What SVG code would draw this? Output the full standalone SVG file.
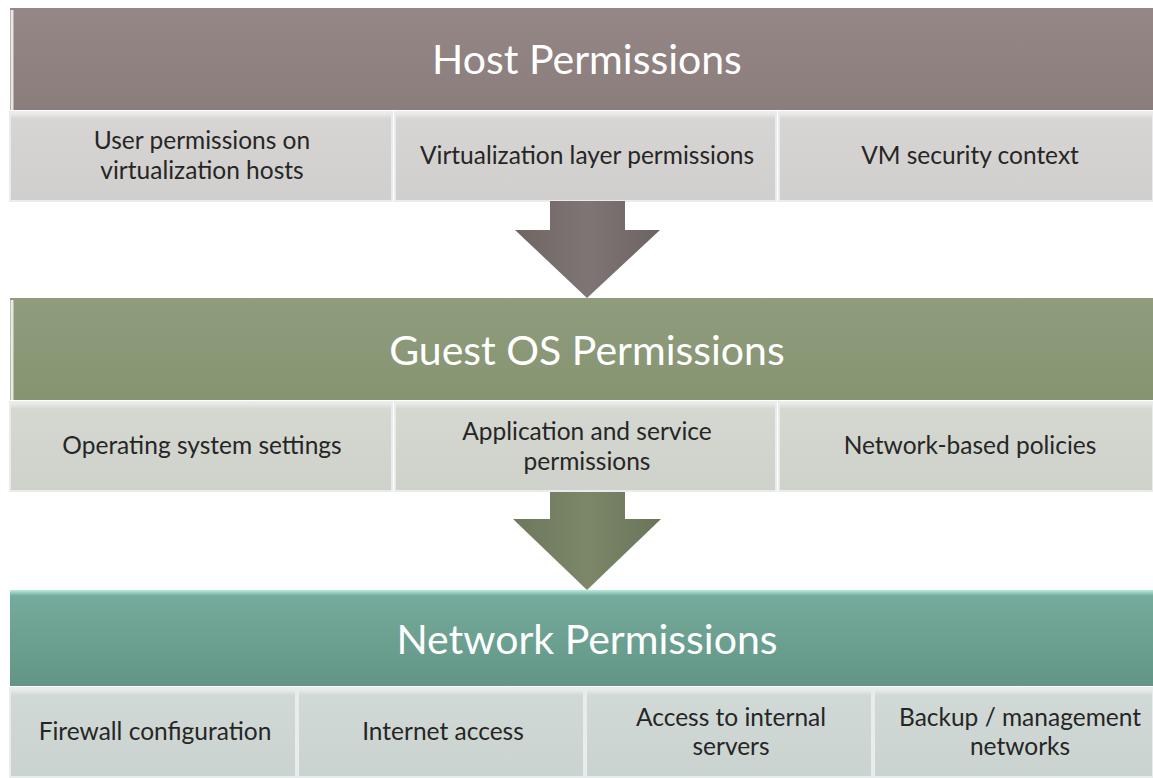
<svg xmlns="http://www.w3.org/2000/svg" width="1153" height="778" viewBox="0 0 1153 778">
<style>
.title{font-family:Lato,"Open Sans",sans-serif;font-size:41px;fill:#ffffff;text-anchor:middle}
.sub{font-family:Lato,"Open Sans",sans-serif;font-size:24.5px;fill:#262626;text-anchor:middle}
.edge{fill:none;stroke:#ffffff;stroke-width:3;stroke-opacity:0.8}
</style>
<defs>
<linearGradient id="gHost" x1="0" y1="0" x2="0" y2="1"><stop offset="0" stop-color="#948785"/><stop offset="1" stop-color="#8a7d7b"/></linearGradient>
<linearGradient id="gGuest" x1="0" y1="0" x2="0" y2="1"><stop offset="0" stop-color="#8f9d7d"/><stop offset="1" stop-color="#869472"/></linearGradient>
<linearGradient id="gNet" x1="0" y1="0" x2="0" y2="1"><stop offset="0" stop-color="#b8ecdf"/><stop offset="0.06" stop-color="#75ab9c"/><stop offset="1" stop-color="#629585"/></linearGradient>
<linearGradient id="gSubH" x1="0" y1="0" x2="0" y2="1"><stop offset="0" stop-color="#f0f0ef"/><stop offset="0.08" stop-color="#d7d5d3"/><stop offset="1" stop-color="#d1cfcd"/></linearGradient>
<linearGradient id="gSubG" x1="0" y1="0" x2="0" y2="1"><stop offset="0" stop-color="#eff0ed"/><stop offset="0.08" stop-color="#d5d7d1"/><stop offset="1" stop-color="#cfd1cb"/></linearGradient>
<linearGradient id="gSubN" x1="0" y1="0" x2="0" y2="1"><stop offset="0" stop-color="#eef2f1"/><stop offset="0.08" stop-color="#d1d9d6"/><stop offset="1" stop-color="#cbd3d0"/></linearGradient>
<linearGradient id="gArr1" x1="0" y1="0" x2="1" y2="0"><stop offset="0" stop-color="#6f6664"/><stop offset="0.5" stop-color="#7f7574"/><stop offset="1" stop-color="#6c6362"/></linearGradient>
<linearGradient id="gArr2" x1="0" y1="0" x2="1" y2="0"><stop offset="0" stop-color="#6d775c"/><stop offset="0.5" stop-color="#7c8769"/><stop offset="1" stop-color="#6a7459"/></linearGradient>
</defs>

<g id="host">
<rect x="10" y="8" width="1143" height="102" fill="url(#gHost)"/>
<line x1="12" y1="10" x2="12" y2="110" class="edge"/>
<text class="title" x="587" y="74">Host Permissions</text>
</g>
<g id="host-users">
<rect x="10" y="112" width="382" height="89" fill="url(#gSubH)" stroke="#e8ecec" stroke-width="2"/>
<text class="sub" x="202" y="149">User permissions on</text>
<text class="sub" x="202" y="179">virtualization hosts</text>
</g>
<g id="host-layer">
<rect x="395" y="112" width="381" height="89" fill="url(#gSubH)" stroke="#e8ecec" stroke-width="2"/>
<text class="sub" x="587" y="164">Virtualization layer permissions</text>
</g>
<g id="host-vm">
<rect x="779" y="112" width="374" height="89" fill="url(#gSubH)" stroke="#e8ecec" stroke-width="2"/>
<text class="sub" x="970" y="164">VM security context</text>
</g>

<g id="guest">
<rect x="10" y="298" width="1143" height="102" fill="url(#gGuest)"/>
<line x1="12" y1="300" x2="12" y2="400" class="edge"/>
<text class="title" x="587" y="365">Guest OS Permissions</text>
</g>
<g id="guest-os">
<rect x="10" y="402" width="382" height="89" fill="url(#gSubG)" stroke="#e8ecec" stroke-width="2"/>
<text class="sub" x="202" y="454">Operating system settings</text>
</g>
<g id="guest-app">
<rect x="395" y="402" width="381" height="89" fill="url(#gSubG)" stroke="#e8ecec" stroke-width="2"/>
<text class="sub" x="587" y="440">Application and service</text>
<text class="sub" x="587" y="470">permissions</text>
</g>
<g id="guest-net">
<rect x="779" y="402" width="374" height="89" fill="url(#gSubG)" stroke="#e8ecec" stroke-width="2"/>
<text class="sub" x="970" y="454">Network-based policies</text>
</g>

<g id="network">
<rect x="10" y="590" width="1143" height="96" fill="url(#gNet)"/>
<text class="title" x="587" y="654">Network Permissions</text>
</g>
<g id="net-fw">
<rect x="10" y="688" width="286" height="89" fill="url(#gSubN)" stroke="#e8ecec" stroke-width="2"/>
<text class="sub" x="155" y="740">Firewall configuration</text>
</g>
<g id="net-inet">
<rect x="298" y="688" width="286" height="89" fill="url(#gSubN)" stroke="#e8ecec" stroke-width="2"/>
<text class="sub" x="443" y="740">Internet access</text>
</g>
<g id="net-internal">
<rect x="586" y="688" width="286" height="89" fill="url(#gSubN)" stroke="#e8ecec" stroke-width="2"/>
<text class="sub" x="731" y="726">Access to internal</text>
<text class="sub" x="731" y="755">servers</text>
</g>
<g id="net-backup">
<rect x="874" y="688" width="279" height="89" fill="url(#gSubN)" stroke="#e8ecec" stroke-width="2"/>
<text class="sub" x="1020" y="726">Backup / management</text>
<text class="sub" x="1020" y="755">networks</text>
</g>

<g id="connectors">
<path d="M550,201 H625 V230 H660 L587,298 L515,230 H550 Z" fill="url(#gArr1)"/>
<path d="M550,492 H625 V519 H661 L587,590 L513,519 H550 Z" fill="url(#gArr2)"/>
</g>
</svg>
